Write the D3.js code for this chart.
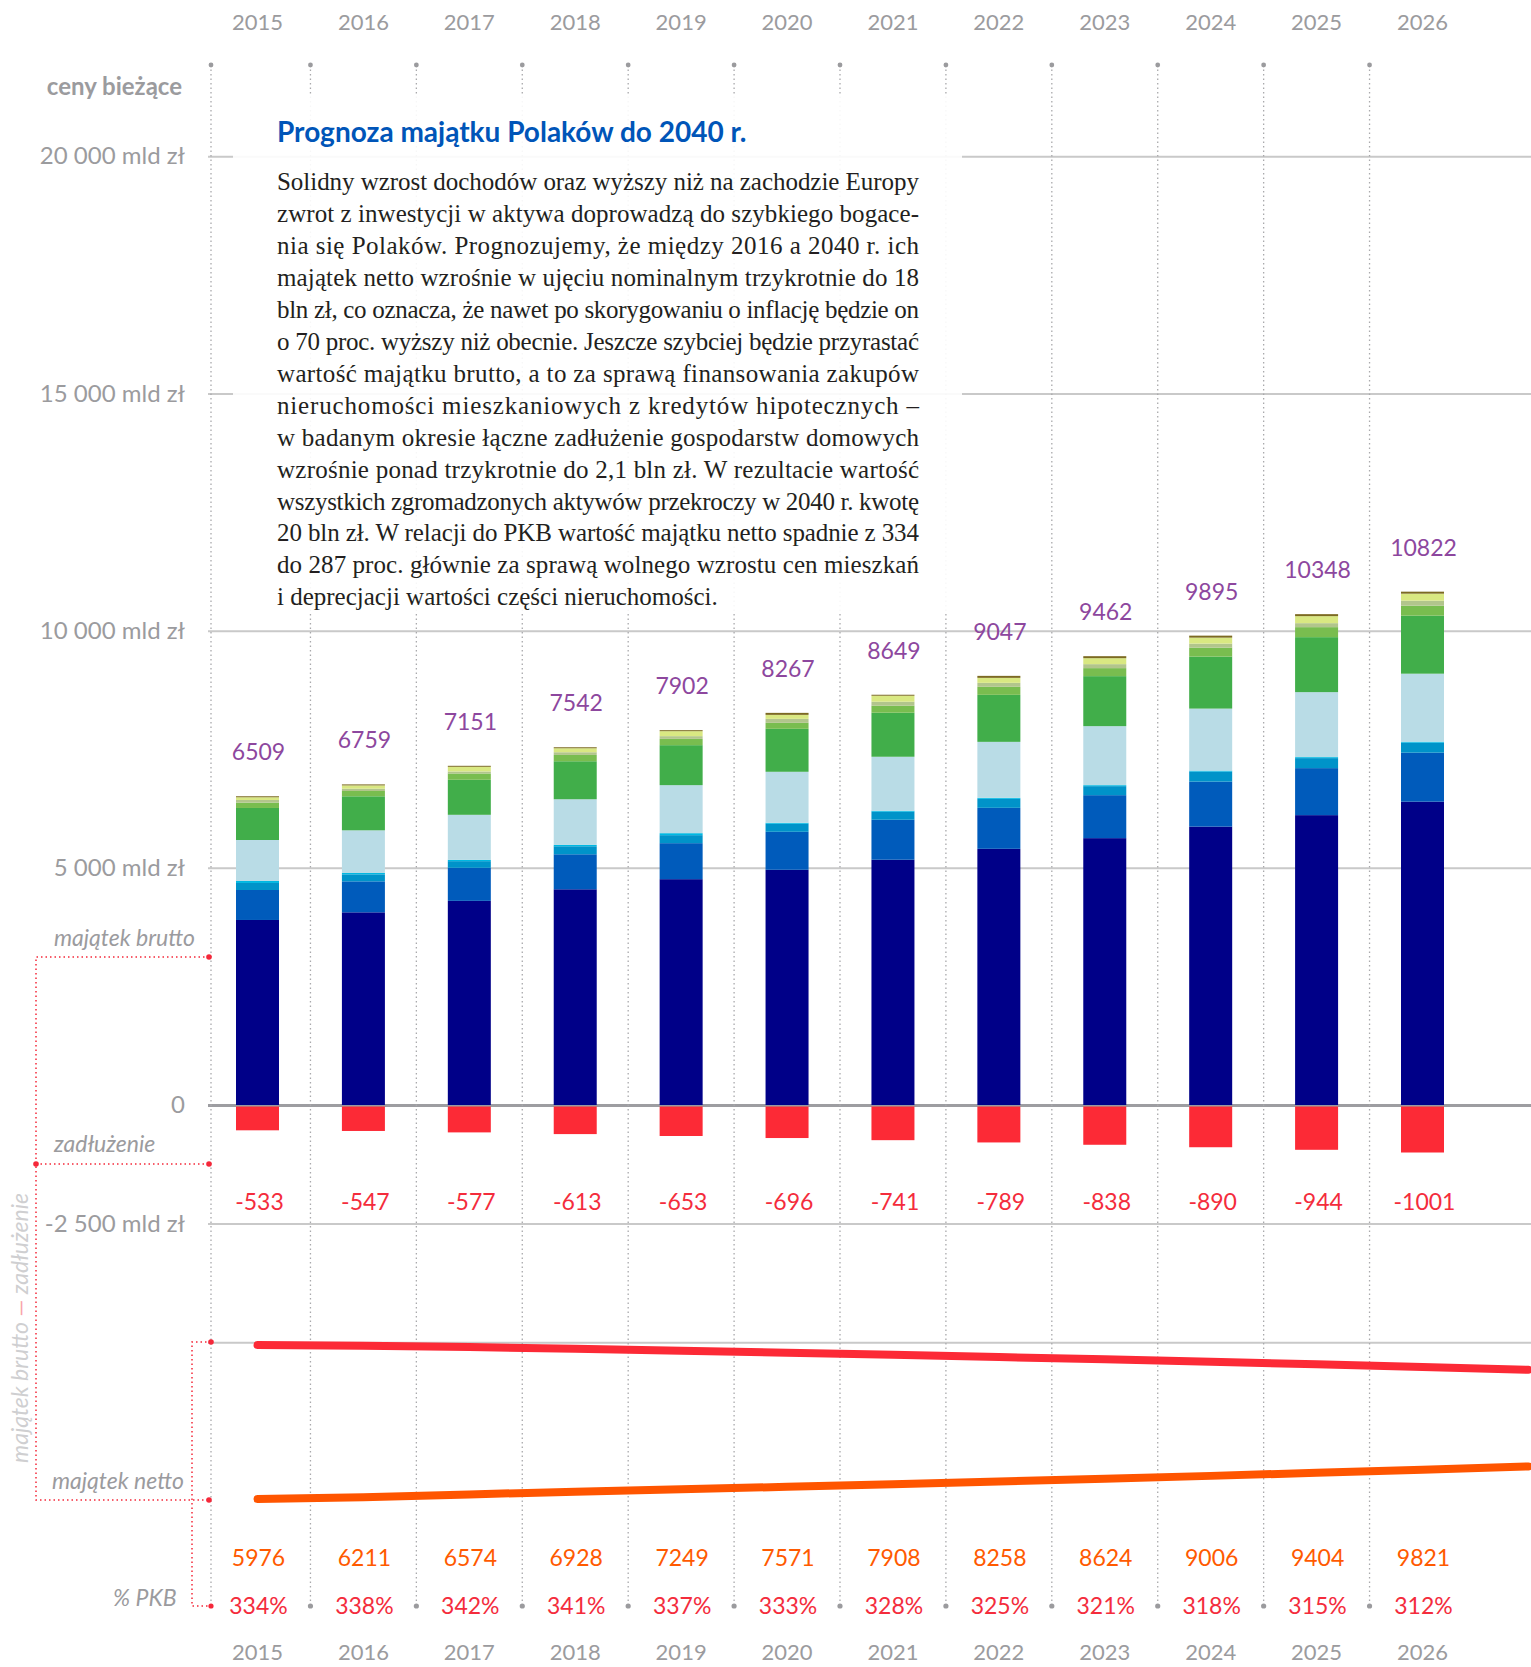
<!DOCTYPE html>
<html>
<head>
<meta charset="utf-8">
<script src="https://cdn.jsdelivr.net/npm/d3@7"></script>
<style>
body { margin: 0; background: #fff; }
svg { display: block; }
</style>
</head>
<body>
<div id="chart"></div>
<script>

var years = [2015, 2016, 2017, 2018, 2019, 2020, 2021, 2022, 2023, 2024, 2025, 2026]

// majatek brutto, zadluzenie, majatek netto (mld zl), % PKB
var brutto = [6509, 6759, 7151, 7542, 7902, 8267, 8649, 9047, 9462, 9895, 10348, 10822]
var debt = [-533, -547, -577, -613, -653, -696, -741, -789, -838, -890, -944, -1001]
var netto = [5976, 6211, 6574, 6928, 7249, 7571, 7908, 8258, 8624, 9006, 9404, 9821]
var pkb = [334, 338, 342, 341, 337, 333, 328, 325, 321, 318, 315, 312]

// lines run on past 2026 to the edge of the page
var lineYears = [2015, 2016, 2017, 2018, 2019, 2020, 2021, 2022, 2023, 2024, 2025, 2026, 2027]
var debtLine = [-533, -547, -577, -613, -653, -696, -741, -789, -838, -890, -944, -1001, -1060]
var nettoLine = [5976, 6211, 6574, 6928, 7249, 7571, 7908, 8258, 8624, 9006, 9404, 9821, 10250]

// skladniki majatku brutto, od dolu
var partNavy = [3901, 4062, 4304, 4548, 4761, 4959, 5171, 5401, 5626, 5869, 6111, 6395]
var partBlue = [632, 653, 696, 738, 759, 801, 843, 864, 906, 949, 991, 1033]
var partMidBlue = [148, 148, 141, 169, 169, 169, 169, 190, 190, 211, 211, 211]
var partCyan = [42, 28, 28, 28, 42, 21, 21, 21, 21, 21, 21, 21]
var partLightBlue = [864, 900, 949, 963, 1012, 1075, 1138, 1180, 1244, 1307, 1370, 1433]
var partGreen = [675, 717, 738, 801, 843, 906, 928, 991, 1054, 1096, 1159, 1223]
var partLightGreen = [112, 112, 133, 133, 133, 126, 148, 169, 169, 190, 211, 211]
var partGrey = [57, 48, 42, 57, 57, 84, 84, 84, 84, 84, 84, 105]
var partYellow = [57, 70, 99, 84, 105, 84, 126, 105, 126, 126, 148, 148]
var partOlive = [21, 21, 21, 21, 21, 42, 21, 42, 42, 42, 42, 42]

var partKeys = ["navy", "blue", "midBlue", "cyan", "lightBlue", "green", "lightGreen", "grey", "yellow", "olive"]
var partColors = ["#000088", "#005bbb", "#0093c9", "#00b8e2", "#b9dce6", "#41ae4a", "#79bd4f", "#b2c58c", "#d9e882", "#7c6a22"]

var yTicks = [20000, 15000, 10000, 5000, 0, -2500, -5000]

var title = "Prognoza majątku Polaków do 2040 r."
var textLines = [
    "Solidny wzrost dochodów oraz wyższy niż na zachodzie Europy",
    "zwrot z inwestycji w aktywa doprowadzą do szybkiego bogace-",
    "nia się Polaków. Prognozujemy, że między 2016 a 2040 r. ich",
    "majątek netto wzrośnie w ujęciu nominalnym trzykrotnie do 18",
    "bln zł, co oznacza, że nawet po skorygowaniu o inflację będzie on",
    "o 70 proc. wyższy niż obecnie. Jeszcze szybciej będzie przyrastać",
    "wartość majątku brutto, a to za sprawą finansowania zakupów",
    "nieruchomości mieszkaniowych z kredytów hipotecznych –",
    "w badanym okresie łączne zadłużenie gospodarstw domowych",
    "wzrośnie ponad trzykrotnie do 2,1 bln zł. W rezultacie wartość",
    "wszystkich zgromadzonych aktywów przekroczy w 2040 r. kwotę",
    "20 bln zł. W relacji do PKB wartość majątku netto spadnie z 334",
    "do 287 proc. głównie za sprawą wolnego wzrostu cen mieszkań",
    "i deprecjacji wartości części nieruchomości."
]

var width = 1531,
    height = 1667,
    axisX = 211,
    barWidth = 43,
    grey = "#9b9b9e",
    sans = "Lato, 'Open Sans', sans-serif";

var pl = d3.formatLocale({ decimal: ",", thousands: " ", grouping: [3], currency: ["", " zł"], minus: "-" })
var fmt = pl.format(",")

var svg = d3.select("#chart")
    .append("svg")
    .attr("width", width)
    .attr("height", height)

var x = d3.scaleLinear().domain([2015, 2026]).range([257.5, 1422.5])
var step = x(2016) - x(2015)
var y = d3.scaleLinear().domain([-5000, 20000]).range([1342.2, 156.3])

// the small panel at the bottom: own scales for the two lines
var yDebtLine = d3.scaleLinear().domain([-533, -1001]).range([1345, 1367])
var yNettoLine = d3.scaleLinear().domain([5000, 10000]).range([1506.4, 1468.3])

// grid lines + labels
var axis = d3.axisLeft(y)
    .tickValues(yTicks)
    .tickSize(-(width - 208))
    .tickPadding(23)
    .tickFormat(function(d) {
        if (d == -5000) return ""
        if (d == 0) return "0"
        return fmt(d) + " mld zł"
    })

var gAxis = svg.append("g")
    .attr("transform", "translate(208,0)")
    .call(axis)

gAxis.select(".domain").remove()
gAxis.selectAll(".tick line")
    .attr("stroke", function(d) { return d == 0 ? "#9d9da1" : "#c9c9c9" })
    .attr("stroke-width", function(d) { return d == 0 ? 3 : 2 })
gAxis.selectAll(".tick text")
    .attr("fill", grey)
    .attr("font-family", sans)
    .attr("font-size", 24)

// vertical dotted lines between years
var sepX = [axisX]
for (let i = 1; i < years.length; i++) {
    sepX.push(x(years[i]) - step / 2)
}

svg.selectAll(".sep")
    .data(sepX)
    .enter()
    .append("line")
    .attr("x1", function(d) { return d })
    .attr("x2", function(d) { return d })
    .attr("y1", 65)
    .attr("y2", 1605)
    .attr("stroke", "#a9a9ac")
    .attr("stroke-width", 1.3)
    .attr("stroke-dasharray", "1.5,3")

svg.selectAll(".dotTop")
    .data(sepX)
    .enter()
    .append("circle")
    .attr("cx", function(d) { return d })
    .attr("cy", 65)
    .attr("r", 2.4)
    .attr("fill", "#9b9b9e")

svg.selectAll(".dotBottom")
    .data(sepX)
    .enter()
    .append("circle")
    .attr("cx", function(d) { return d })
    .attr("cy", 1606)
    .attr("r", 2.6)
    .attr("fill", function(d, i) { return i == 0 ? "#f5283a" : "#9b9b9e" })

// text box
svg.append("rect")
    .attr("x", 233)
    .attr("y", 96)
    .attr("width", 729)
    .attr("height", 518)
    .attr("fill", "#fff")
    .attr("fill-opacity", 0.9)

svg.append("text")
    .attr("x", 277)
    .attr("y", 142)
    .attr("font-family", sans)
    .attr("font-weight", "bold")
    .attr("font-size", 28)
    .attr("fill", "#0055b8")
    .text(title)

svg.selectAll(".para")
    .data(textLines)
    .enter()
    .append("text")
    .attr("x", 277)
    .attr("y", function(d, i) { return 190 + i * 31.95 })
    .attr("font-family", "'Liberation Serif', 'DejaVu Serif', serif")
    .attr("font-size", 25)
    .attr("fill", "#231f20")
    .each(function(d, i) {
        if (i < textLines.length - 1) {
            d3.select(this).attr("textLength", 642).attr("lengthAdjust", "spacing")
        }
    })
    .text(function(d) { return d })

// stacked bars
var table = years.map(function(yr, i) {
    return {
        year: yr,
        navy: partNavy[i],
        blue: partBlue[i],
        midBlue: partMidBlue[i],
        cyan: partCyan[i],
        lightBlue: partLightBlue[i],
        green: partGreen[i],
        lightGreen: partLightGreen[i],
        grey: partGrey[i],
        yellow: partYellow[i],
        olive: partOlive[i]
    }
})

var series = d3.stack().keys(partKeys)(table)

svg.selectAll(".layer")
    .data(series)
    .enter()
    .append("g")
    .attr("fill", function(d, i) { return partColors[i] })
    .selectAll("rect")
    .data(function(d) { return d })
    .enter()
    .append("rect")
    .attr("x", function(d) { return x(d.data.year) - barWidth / 2 })
    .attr("y", function(d) { return y(d[1]) })
    .attr("width", barWidth)
    .attr("height", function(d) { return y(d[0]) - y(d[1]) })

// debt bars
svg.selectAll(".debt")
    .data(debt)
    .enter()
    .append("rect")
    .attr("x", function(d, i) { return x(years[i]) - barWidth / 2 })
    .attr("y", y(0) + 1.5)
    .attr("width", barWidth)
    .attr("height", function(d) { return y(d) - y(0) - 1.5 })
    .attr("fill", "#fc2a36")

// year labels, top and bottom
;[22, 1652].forEach(function(yy) {
    svg.selectAll(null)
        .data(years)
        .enter()
        .append("text")
        .attr("x", function(d) { return x(d) })
        .attr("y", yy)
        .attr("dy", "0.35em")
        .attr("text-anchor", "middle")
        .attr("font-family", sans)
        .attr("font-size", 22)
        .attr("fill", grey)
        .text(function(d) { return d })
})

// value labels
svg.selectAll(".bruttoLbl")
    .data(brutto)
    .enter()
    .append("text")
    .attr("x", function(d, i) { return x(years[i]) + 1 })
    .attr("y", function(d) { return y(d) - 44 })
    .attr("dy", "0.35em")
    .attr("text-anchor", "middle")
    .attr("font-family", sans)
    .attr("font-size", 23)
    .attr("fill", "#8d479e")
    .text(function(d) { return d })

svg.selectAll(".debtLbl")
    .data(debt)
    .enter()
    .append("text")
    .attr("x", function(d, i) { return x(years[i]) + 2 })
    .attr("y", 1201.5)
    .attr("dy", "0.35em")
    .attr("text-anchor", "middle")
    .attr("font-family", sans)
    .attr("font-size", 23)
    .attr("fill", "#f42c3c")
    .text(function(d) { return d })

svg.selectAll(".nettoLbl")
    .data(netto)
    .enter()
    .append("text")
    .attr("x", function(d, i) { return x(years[i]) + 1 })
    .attr("y", 1557.5)
    .attr("dy", "0.35em")
    .attr("text-anchor", "middle")
    .attr("font-family", sans)
    .attr("font-size", 23)
    .attr("fill", "#ff5a00")
    .text(function(d) { return d })

svg.selectAll(".pkbLbl")
    .data(pkb)
    .enter()
    .append("text")
    .attr("x", function(d, i) { return x(years[i]) + 1 })
    .attr("y", 1605.5)
    .attr("dy", "0.35em")
    .attr("text-anchor", "middle")
    .attr("font-family", sans)
    .attr("font-size", 23)
    .attr("fill", "#f42c3c")
    .text(function(d) { return d + "%" })

// trend lines
var debtPath = d3.line()
    .x(function(d, i) { return x(lineYears[i]) })
    .y(function(d) { return yDebtLine(d) })

var nettoPath = d3.line()
    .x(function(d, i) { return x(lineYears[i]) })
    .y(function(d) { return yNettoLine(d) })

svg.append("path")
    .attr("d", debtPath(debtLine))
    .attr("fill", "none")
    .attr("stroke", "#fc2a36")
    .attr("stroke-width", 8)
    .attr("stroke-linecap", "round")

svg.append("path")
    .attr("d", nettoPath(nettoLine))
    .attr("fill", "none")
    .attr("stroke", "#ff5500")
    .attr("stroke-width", 8)
    .attr("stroke-linecap", "round")

// left side captions
svg.append("text")
    .attr("x", 182)
    .attr("y", 87)
    .attr("dy", "0.35em")
    .attr("text-anchor", "end")
    .attr("font-family", sans)
    .attr("font-weight", "bold")
    .attr("font-size", 24)
    .attr("fill", grey)
    .text("ceny bieżące")

var captions = [
    { t: "majątek brutto", x: 54, y: 938 },
    { t: "zadłużenie", x: 54, y: 1144 },
    { t: "majątek netto", x: 52, y: 1481 },
    { t: "% PKB", x: 113, y: 1598 }
]

svg.selectAll(".cap")
    .data(captions)
    .enter()
    .append("text")
    .attr("x", function(d) { return d.x })
    .attr("y", function(d) { return d.y })
    .attr("dy", "0.35em")
    .attr("font-family", sans)
    .attr("font-style", "italic")
    .attr("font-size", 23)
    .attr("fill", grey)
    .text(function(d) { return d.t })

// red dotted brackets
var bracket = svg.append("g")
    .attr("fill", "none")
    .attr("stroke", "#f5283a")
    .attr("stroke-width", 1.5)
    .attr("stroke-dasharray", "1.5,3")

bracket.append("path").attr("d", "M209,957 H36 V1500 H209")
bracket.append("path").attr("d", "M36,1164 H209")
bracket.append("path").attr("d", "M211,1342 H192 V1606 H211")

svg.selectAll(".bdot")
    .data([[209, 957], [36, 1164], [209, 1164], [209, 1500], [211, 1342]])
    .enter()
    .append("circle")
    .attr("cx", function(d) { return d[0] })
    .attr("cy", function(d) { return d[1] })
    .attr("r", 2.8)
    .attr("fill", "#f5283a")

var rot = svg.append("text")
    .attr("transform", "translate(28,1328) rotate(-90)")
    .attr("text-anchor", "middle")
    .attr("font-family", sans)
    .attr("font-style", "italic")
    .attr("font-size", 23)
    .attr("fill", "#cfcfd1")

rot.append("tspan").text("majątek brutto ")
rot.append("tspan").attr("fill", "#f9a3aa").text("—")
rot.append("tspan").text(" zadłużenie")

</script>
</body>
</html>
